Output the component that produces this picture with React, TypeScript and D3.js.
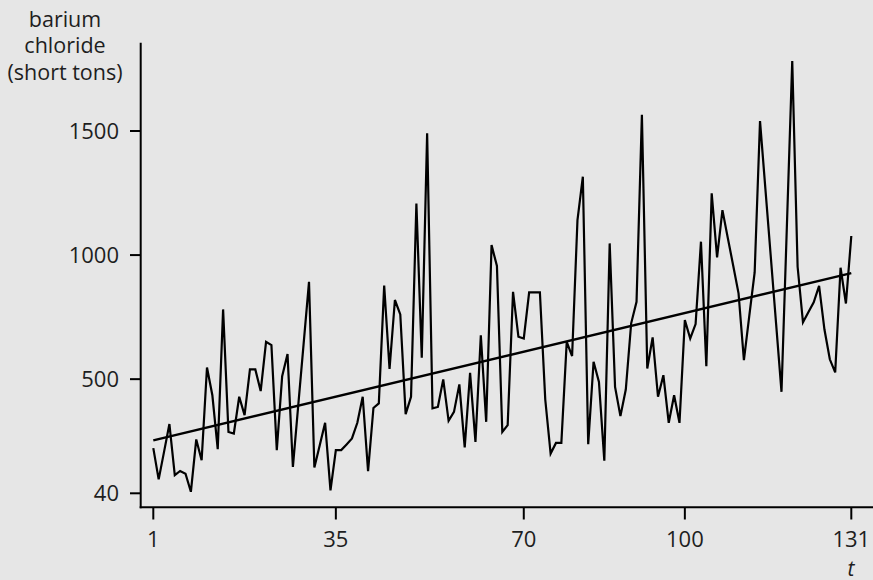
import React, { useEffect } from "react";
import * as d3 from "d3";

const values: number[] = [
  222, 96, 207, 319, 113, 130, 119, 46, 257, 173,
  547, 435, 218, 781, 287, 281, 429, 355, 539, 539,
  452, 650, 637, 214, 512, 601, 146, 395, 643, 892,
  144, 234, 324, 52, 214, 214, 237, 261, 324, 429,
  129, 384, 402, 877, 541, 819, 761, 359, 429, 1208,
  586, 1491, 382, 388, 499, 332, 368, 479, 225, 525,
  247, 677, 328, 1040, 956, 287, 315, 852, 671, 664,
  850, 850, 850, 418, 200, 243, 243, 650, 593, 1141,
  1316, 238, 570, 489, 171, 1047, 469, 351, 458, 725,
  812, 1565, 543, 668, 429, 516, 324, 435, 324, 738,
  664, 722, 1054, 552, 1249, 991, 1181, 1069, 958, 846,
  577, 755, 930, 1540, 1267, 995, 722, 449, 1115, 1782,
  953, 729, 770, 810, 876, 700, 580, 527, 949, 805, 1077,
];
const times: number[] = values.map((_, i) => i + 1);
const xTicks: number[] = [1, 35, 70, 100, 131];
const yTicks: number[] = [40, 500, 1000, 1500];
const titleLines: string[] = ["barium", "chloride", "(short tons)"];
const xLabel = "t";

const W = 873;
const H = 580;
const FONT = "'Open Sans', sans-serif";

export default function App() {
  useEffect(() => {
    document.body.style.margin = "0";
    document.body.style.background = "#e6e6e6";
  }, []);

  const x = d3.scaleLinear().domain([1, 131]).range([153.3, 851.3]);
  const y = d3.scaleLinear().domain([40, 1500]).range([493.3, 131]);

  const pts: [number, number][] = times.map((t, i) => [t, values[i]]);
  const line = d3
    .line<[number, number]>()
    .x((d) => x(d[0]))
    .y((d) => y(d[1]));

  // OLS trend line
  const mt = d3.mean(times)!;
  const mv = d3.mean(values)!;
  let sxy = 0;
  let sxx = 0;
  times.forEach((t, i) => {
    sxy += (t - mt) * (values[i] - mv);
    sxx += (t - mt) * (t - mt);
  });
  const slope = sxy / sxx;
  const icpt = mv - slope * mt;
  const t0 = times[0];
  const t1 = times[times.length - 1];

  const axisLeft = 140.7;
  const axisBottom = 507.3;
  const axisTop = 42.7;

  return (
    <svg width={W} height={H} style={{ display: "block", background: "#e6e6e6" }}>
      <rect x={0} y={0} width={W} height={H} fill="#e6e6e6" />
      {/* title */}
      <text fontFamily={FONT} fontSize={21.5} fill="#1e1e1e" textAnchor="middle">
        {titleLines.map((s, i) => (
          <tspan key={i} x={65} y={26.7 + i * 26.6}>
            {s}
          </tspan>
        ))}
      </text>
      {/* y axis */}
      <line x1={axisLeft} x2={axisLeft} y1={axisTop} y2={axisBottom + 1} stroke="#000" strokeWidth={2} />
      {yTicks.map((v) => (
        <g key={v}>
          <line x1={130} x2={axisLeft} y1={y(v)} y2={y(v)} stroke="#000" strokeWidth={2} />
          <text
            x={119}
            y={y(v)}
            dy="0.36em"
            textAnchor="end"
            fontFamily={FONT}
            fontSize={22}
            fill="#1e1e1e"
          >
            {v}
          </text>
        </g>
      ))}
      {/* x axis */}
      <line x1={axisLeft - 1} x2={W} y1={axisBottom} y2={axisBottom} stroke="#000" strokeWidth={2} />
      {xTicks.map((t) => (
        <g key={t}>
          <line x1={x(t)} x2={x(t)} y1={axisBottom} y2={519.5} stroke="#000" strokeWidth={2} />
          <text
            x={x(t)}
            y={547}
            textAnchor="middle"
            fontFamily={FONT}
            fontSize={22}
            fill="#1e1e1e"
          >
            {t}
          </text>
        </g>
      ))}
      <text
        x={851}
        y={576}
        textAnchor="middle"
        fontFamily={FONT}
        fontSize={21}
        fontStyle="italic"
        fill="#1e1e1e"
      >
        {xLabel}
      </text>
      {/* data */}
      <path d={line(pts) || ""} fill="none" stroke="#000" strokeWidth={2.2} strokeLinejoin="miter" />
      <line
        x1={x(t0)}
        y1={y(icpt + slope * t0)}
        x2={x(t1)}
        y2={y(icpt + slope * t1)}
        stroke="#000"
        strokeWidth={2.5}
      />
    </svg>
  );
}
